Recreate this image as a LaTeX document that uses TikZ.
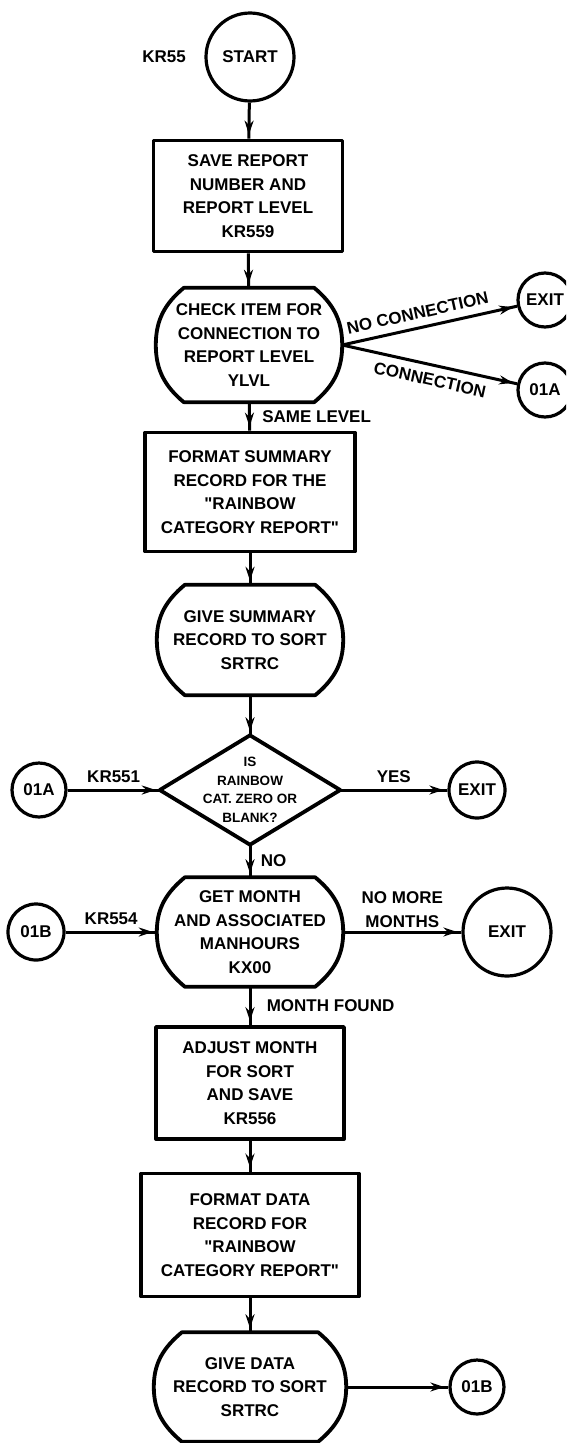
\documentclass[tikz,border=0pt]{standalone}
\usepackage{fontspec}
\setmainfont{Liberation Sans}
\usetikzlibrary{arrows.meta,decorations.markings,calc}

\tikzset{
  every node/.style={font=\fontsize{17}{23.5}\selectfont\bfseries},
  outline/.style={line width=3.8pt, line join=round},
  proc/.style={rectangle, draw, outline, inner sep=0pt, align=center},
  term/.style={rectangle, inner sep=0pt, align=center},
  conn/.style={circle, draw, line width=3.2pt, inner sep=0pt},
  flow/.style={line width=3pt, postaction={decorate},
    decoration={markings, mark=at position -4pt with {\arrow{Stealth[length=14pt,width=9pt]}}}},
  small/.style={font=\fontsize{13.5}{18.5}\selectfont\bfseries}
}

% terminal outline: flat top and bottom, bulging sides
\newcommand\termoutline[2][28]{%
  \draw[outline] ($(#2.north east)+(-#1,0)$) to[out=-40,in=90] (#2.east)
    to[out=-90,in=40] ($(#2.south east)+(-#1,0)$) -- ($(#2.south west)+(#1,0)$)
    to[out=140,in=-90] (#2.west) to[out=90,in=-140] ($(#2.north west)+(#1,0)$) -- cycle;}
\newcommand\qq{\textquotedbl}

\begin{document}
\begin{tikzpicture}[x=1pt,y=1pt]
\useasboundingbox (0,0) rectangle (566,-1443);
\clip (0,0) rectangle (566,-1443);

% main column
\node[conn, minimum size=88pt, label={[label distance=15pt]left:KR55}] (start) at (250,-57) {START};
\node[proc, minimum width=189pt, minimum height=111pt] (box1) at (248,-196)
  {SAVE REPORT\\NUMBER AND\\REPORT LEVEL\\KR559};
\node[term, minimum width=186pt, minimum height=114pt] (check) at (249,-345)
  {CHECK ITEM FOR\\CONNECTION TO\\REPORT LEVEL\\YLVL};
\termoutline{check}
\node[proc, minimum width=210pt, minimum height=119pt] (box3) at (250,-492)
  {FORMAT SUMMARY\\RECORD FOR THE\\\qq RAINBOW\\CATEGORY REPORT\qq};
\node[term, minimum width=186pt, minimum height=110pt] (give1) at (250,-640)
  {GIVE SUMMARY\\RECORD TO SORT\\SRTRC};
\termoutline{give1}
\node[term, small, minimum width=180pt, minimum height=109pt] (dec) at (250,-790)
  {IS\\RAINBOW\\CAT. ZERO OR\\BLANK?};
\draw[outline] (dec.north) -- (dec.east) -- (dec.south) -- (dec.west) -- cycle;
\node[term, minimum width=186pt, minimum height=109pt] (month) at (250,-932)
  {GET MONTH\\AND ASSOCIATED\\MANHOURS\\KX00};
\termoutline{month}
\node[proc, minimum width=188pt, minimum height=112pt] (box7) at (250,-1083)
  {ADJUST MONTH\\FOR SORT\\AND SAVE\\KR556};
\node[proc, minimum width=218pt, minimum height=123pt] (box8) at (250,-1235)
  {FORMAT DATA\\RECORD FOR\\\qq RAINBOW\\CATEGORY REPORT\qq};
\node[term, minimum width=192pt, minimum height=109pt] (give2) at (250,-1387)
  {GIVE DATA\\RECORD TO SORT\\SRTRC};
\termoutline{give2}

% connectors and exits
\node[conn, minimum size=54pt] (exit1) at (545,-300) {EXIT};
\node[conn, minimum size=54pt] (oia1) at (545,-390) {01A};
\node[conn, minimum size=54pt] (oia2) at (39,-790) {01A};
\node[conn, minimum size=56pt] (exit2) at (477,-790) {EXIT};
\node[conn, minimum size=56pt] (oib1) at (36,-932) {01B};
\node[conn, minimum size=88pt] (exit3) at (507,-932) {EXIT};
\node[conn, minimum size=54pt] (oib2) at (477,-1387) {01B};

% flow lines
\draw[flow] (start) -- (box1);
\draw[flow] (box1) -- (check);
\draw[flow] (check.east) -- node[sloped, above=4pt, pos=0.45] {NO CONNECTION} (exit1);
\draw[flow] (check.east) -- node[sloped, below=4pt, pos=0.52] {CONNECTION} (oia1);
\draw[flow] (check) -- node[right, xshift=8pt] {SAME LEVEL} (box3);
\draw[flow] (box3) -- (give1);
\draw[flow] (give1) -- (dec);
\draw[flow] (oia2) -- node[above, yshift=3pt] {KR551} (dec.west);
\draw[flow] (dec.east) -- node[above, yshift=3pt] {YES} (exit2);
\draw[flow] (dec.south) -- node[right, xshift=6pt] {NO} (month);
\draw[flow] (oib1) -- node[above, yshift=3pt] {KR554} (month.west);
\draw[flow] (month.east) -- node[above, align=center] {NO MORE\\MONTHS} (exit3);
\draw[flow] (month) -- node[right, xshift=12pt] {MONTH FOUND} (box7);
\draw[flow] (box7) -- (box8);
\draw[flow] (box8) -- (give2);
\draw[flow] (give2.east) -- (oib2);
\end{tikzpicture}
\end{document}
